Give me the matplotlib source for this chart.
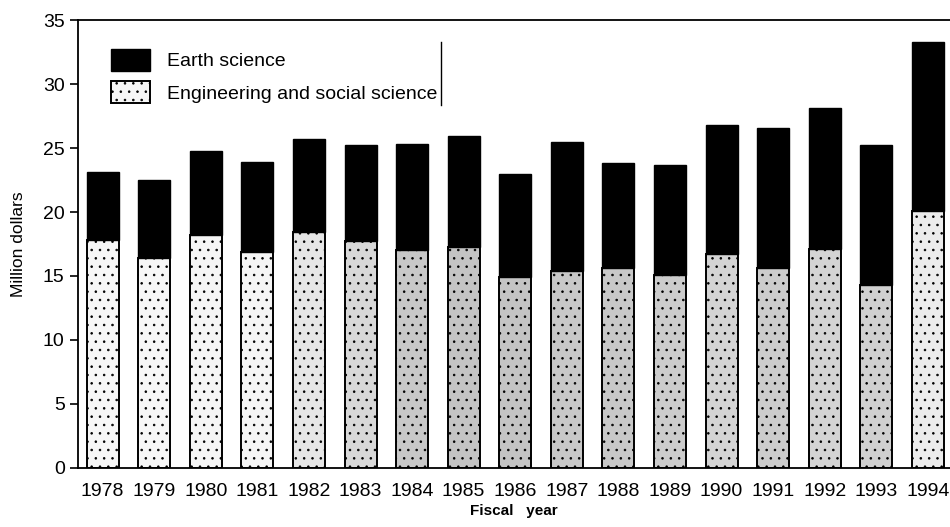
import numpy as np
import matplotlib
matplotlib.use("Agg")
import matplotlib.pyplot as plt

years = [str(y) for y in range(1978, 1995)]
total = [23.1, 22.5, 24.8, 23.9, 25.7, 25.2, 25.3, 25.9, 23.0, 25.5,
         23.8, 23.7, 26.8, 26.6, 28.1, 25.2, 33.3]
engineering = [17.8, 16.4, 18.2, 16.9, 18.4, 17.7, 17.0, 17.3, 14.9, 15.4,
               15.6, 15.1, 16.7, 15.6, 17.1, 14.3, 20.1]
earth = [t - e for t, e in zip(total, engineering)]

# stipple shade of the lower bars (scan gets darker in the middle years)
shades = ["#f7f7f7", "#f7f7f7", "#f5f5f5", "#f5f5f5", "#e6e6e6", "#d8d8d8",
          "#c8c8c8", "#c4c4c4", "#c4c4c4", "#c8c8c8", "#c8c8c8", "#cccccc",
          "#d4d4d4", "#cccccc", "#d4d4d4", "#d0d0d0", "#ececec"]

plt.rcParams['font.family'] = ['Liberation Sans', 'DejaVu Sans']
plt.rcParams['hatch.linewidth'] = 0.6

fig = plt.figure(figsize=(9.5, 5.27), dpi=100)
ax = fig.add_axes([0.082, 0.112, 0.918, 0.85])

x = np.arange(len(years))
w = 0.62
ax.bar(x, engineering, w, color=shades, edgecolor="black", linewidth=1.4,
       hatch="..", label="Engineering and social science")
ax.bar(x, earth, w, bottom=engineering, color="black", edgecolor="black",
       linewidth=1.0, label="Earth science")

ax.set_xlim(-0.48, len(years) - 0.57)
ax.set_ylim(0, 35)
ax.set_yticks(np.arange(0, 36, 5))
ax.set_xticks(x)
ax.set_xticklabels(years, fontsize=14)
ax.tick_params(axis="x", length=0, pad=11)
ax.tick_params(axis="y", labelsize=14, length=6, width=1.2, direction="out")

ax.spines["right"].set_visible(False)
for s in ["left", "bottom", "top"]:
    ax.spines[s].set_linewidth(1.3)

ax.set_ylabel("Million dollars", fontsize=12.5, labelpad=12)
ax.set_xlabel("Fiscal   year", fontsize=11, fontweight="bold", labelpad=3)

h, l = ax.get_legend_handles_labels()
leg = ax.legend(h[::-1], l[::-1], loc="upper left", bbox_to_anchor=(0.018, 0.975),
                frameon=False, fontsize=14, handlelength=2.0, handleheight=1.4,
                labelspacing=0.5, handletextpad=0.9)
ax.axvline(x=ax.get_xlim()[0] + (441 - 78) / 872 * (ax.get_xlim()[1] - ax.get_xlim()[0]),
           ymin=0.81, ymax=0.95, color="black", linewidth=1.0)

fig.savefig("out.png", dpi=100)
